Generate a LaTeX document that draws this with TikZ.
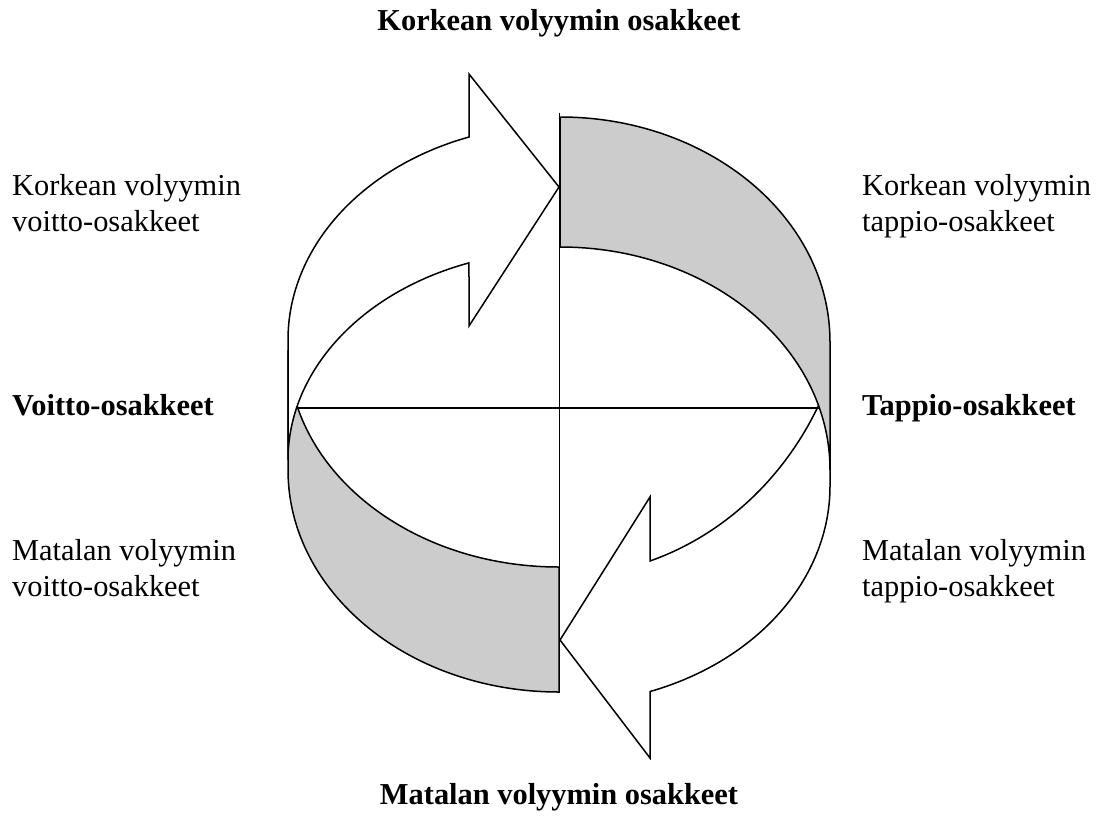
\documentclass[tikz,border=0pt]{standalone}
\usepackage{fontspec}
\setmainfont{Liberation Serif}
\begin{document}
\begin{tikzpicture}[x=1pt,y=-1pt,
  edge/.style={line width=1.5pt, line join=miter},
  ribbon/.style={edge, fill=white},
  shade/.style={edge, fill=black!20},
  lbl/.style={inner sep=0pt, font=\fontsize{30.4}{35}\selectfont},
  ttl/.style={inner sep=0pt, font=\fontsize{30.4}{35}\selectfont\bfseries}]
\useasboundingbox (0,0) rectangle (1110,827);

% left ribbon: shaded back part
\draw[shade] (559,692) arc[start angle=90, end angle=180, x radius=271, y radius=222]
  -- (288,350) arc[start angle=180, end angle=90, x radius=271, y radius=217] -- cycle;
% left ribbon: white front arrow
\draw[ribbon] (469,137) arc[start angle=250.6, end angle=180, x radius=271, y radius=215]
  -- (288,460) arc[start angle=180, end angle=250.6, x radius=271, y radius=209]
  -- (469,326) -- (559,187) -- (469,74) -- cycle;

% right ribbon: white front arrow
\draw[ribbon] (830,486) arc[start angle=0, end angle=70.5, x radius=270, y radius=218]
  -- (650,758) -- (560,640) -- (650,497)
  -- (650,561) arc[start angle=72, end angle=21.9, x radius=291, y radius=316.5] -- cycle;
% right ribbon: shaded back part
\draw[shade] (560,117) arc[start angle=-90, end angle=0, x radius=270, y radius=225]
  -- (830,470) arc[start angle=0, end angle=-90, x radius=270, y radius=223] -- cycle;

% axes
\coordinate (cl) at (297.5,408);
\coordinate (cr) at (818.5,408);
\coordinate (ct) at (559.5,113);
\coordinate (cb) at (559.5,692);
\draw[edge] (cl) -- (cr);
\draw[edge] (ct) -- (cb);

% labels
\node[ttl, anchor=base] (ttop) at (559,30) {Korkean volyymin osakkeet};
\node[ttl, anchor=base] (tbot) at (559,804) {Matalan volyymin osakkeet};

\node[lbl, anchor=base west] (l1a) at (12,195) {Korkean volyymin};
\node[lbl, anchor=base west] (l1b) at (12,231) {voitto-osakkeet};
\node[ttl, anchor=base west] (l2) at (12,415) {Voitto-osakkeet};
\node[lbl, anchor=base west] (l3a) at (12,560) {Matalan volyymin};
\node[lbl, anchor=base west] (l3b) at (12,596) {voitto-osakkeet};

\node[lbl, anchor=base west] (r1a) at (862,195) {Korkean volyymin};
\node[lbl, anchor=base west] (r1b) at (862,231) {tappio-osakkeet};
\node[ttl, anchor=base west] (r2) at (862,415) {Tappio-osakkeet};
\node[lbl, anchor=base west] (r3a) at (862,560) {Matalan volyymin};
\node[lbl, anchor=base west] (r3b) at (862,596) {tappio-osakkeet};
\end{tikzpicture}
\end{document}
